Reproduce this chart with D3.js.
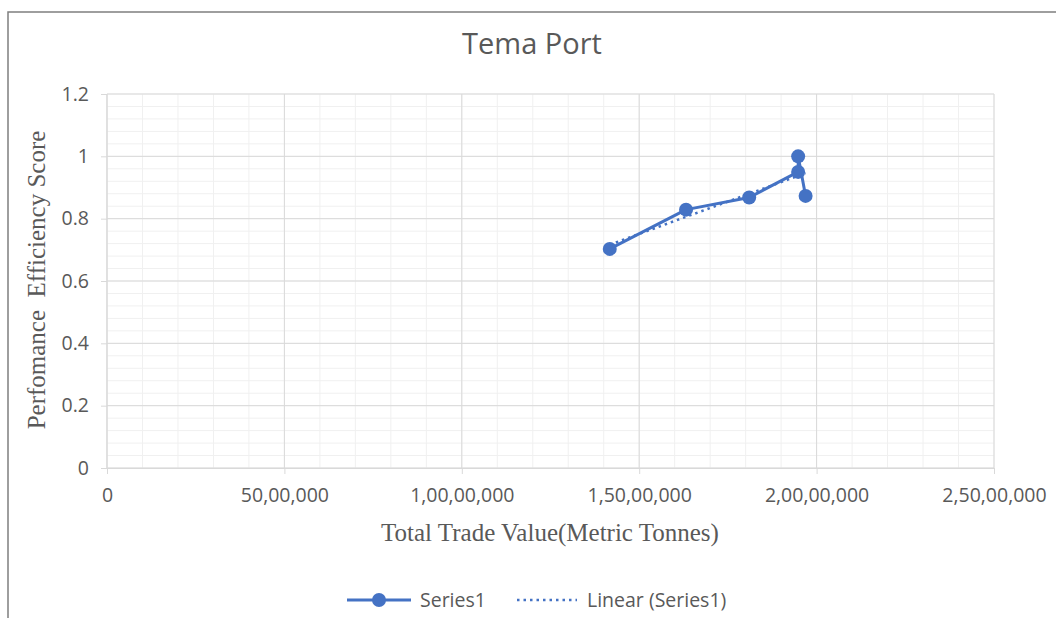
<!DOCTYPE html>
<html>
<head>
<meta charset="utf-8">
<script src="https://cdn.jsdelivr.net/npm/d3@7"></script>
<style>
  body { margin: 0; background: #fff; }
  svg { display: block; }
</style>
</head>
<body>
<div id="chart"></div>
<script>
// data
var tradeValues = [14170000, 16320000, 18100000, 19480000, 19480000, 19690000];
var effScores = [0.703, 0.829, 0.868, 0.950, 1.000, 0.873];
var xTicks = [0, 5000000, 10000000, 15000000, 20000000, 25000000];
var yTicks = [0, 0.2, 0.4, 0.6, 0.8, 1, 1.2];
var seriesName = "Series1";

var W = 1056, H = 618;
var margin = { top: 94, right: 62, bottom: 150, left: 107 };
var width = W - margin.left - margin.right,
    height = H - margin.top - margin.bottom;

var svg = d3.select("#chart")
    .append("svg")
    .attr("width", W)
    .attr("height", H);

// chart frame (runs off right and bottom)
svg.append("rect")
    .attr("x", 8).attr("y", 12)
    .attr("width", W + 10).attr("height", H + 10)
    .attr("fill", "none")
    .attr("stroke", "#7f7f7f")
    .attr("stroke-width", 1.5);

svg.append("text")
    .attr("x", 532).attr("y", 54)
    .attr("text-anchor", "middle")
    .attr("font-family", "Open Sans, Lato, sans-serif")
    .attr("font-size", 29)
    .attr("fill", "#595959")
    .text("Tema Port");

var g = svg.append("g")
    .attr("transform", "translate(" + margin.left + "," + margin.top + ")");

var x = d3.scaleLinear().domain([0, 25000000]).range([0, width]);
var y = d3.scaleLinear().domain([0, 1.2]).range([height, 0]);

// minor grid
g.append("g").selectAll("line")
    .data(d3.range(0, 25000001, 1000000))
    .enter().append("line")
    .attr("x1", function(d) { return x(d); })
    .attr("x2", function(d) { return x(d); })
    .attr("y1", 0).attr("y2", height)
    .attr("stroke", "#f0f0f0").attr("stroke-width", 1);

g.append("g").selectAll("line")
    .data(d3.range(0, 31).map(function(i) { return i * 0.04; }))
    .enter().append("line")
    .attr("y1", function(d) { return y(d); })
    .attr("y2", function(d) { return y(d); })
    .attr("x1", 0).attr("x2", width)
    .attr("stroke", "#f0f0f0").attr("stroke-width", 1);

// major grid
g.append("g").selectAll("line")
    .data(xTicks)
    .enter().append("line")
    .attr("x1", function(d) { return x(d); })
    .attr("x2", function(d) { return x(d); })
    .attr("y1", 0).attr("y2", height)
    .attr("stroke", "#d9d9d9").attr("stroke-width", 1);

g.append("g").selectAll("line")
    .data(yTicks)
    .enter().append("line")
    .attr("y1", function(d) { return y(d); })
    .attr("y2", function(d) { return y(d); })
    .attr("x1", 0).attr("x2", width)
    .attr("stroke", "#d9d9d9").attr("stroke-width", 1);

// indian style grouping: 2,50,00,000
function indFmt(v) {
    var s = String(Math.round(v));
    if (s.length <= 3) return s;
    var last = s.slice(-3), rest = s.slice(0, -3);
    rest = rest.replace(/\B(?=(\d{2})+(?!\d))/g, ",");
    return rest + "," + last;
}

var xAxis = g.append("g")
    .attr("transform", "translate(0," + height + ")")
    .call(d3.axisBottom(x).tickValues(xTicks).tickFormat(indFmt).tickSize(6).tickPadding(14));

var yAxis = g.append("g")
    .call(d3.axisLeft(y).tickValues(yTicks).tickFormat(d3.format("")).tickSize(6).tickPadding(12));

[xAxis, yAxis].forEach(function(a) {
    a.select(".domain").attr("stroke", "#d9d9d9");
    a.selectAll(".tick line").attr("stroke", "#d9d9d9");
    a.selectAll("text")
        .attr("font-family", "Open Sans, Lato, sans-serif")
        .attr("font-size", 19.5)
        .attr("fill", "#595959");
});
yAxis.select(".domain").remove();
yAxis.append("line").attr("y1", 0).attr("y2", height).attr("stroke", "#d9d9d9");

// axis titles
svg.append("text")
    .attr("x", 550).attr("y", 541)
    .attr("text-anchor", "middle")
    .attr("font-family", "Liberation Serif, Times New Roman, serif")
    .attr("font-size", 25)
    .attr("fill", "#595959")
    .text("Total Trade Value(Metric Tonnes)");

svg.append("text")
    .attr("transform", "translate(45,280) rotate(-90)")
    .attr("text-anchor", "middle")
    .attr("font-family", "Liberation Serif, Times New Roman, serif")
    .attr("font-size", 25)
    .attr("fill", "#595959")
    .attr("xml:space", "preserve")
    .text("Perfomance  Efficiency Score");

var pts = tradeValues.map(function(v, i) { return { x: v, y: effScores[i] }; });
var blue = "#4472c4";

// linear trendline
var mx = d3.mean(pts, function(d) { return d.x; }),
    my = d3.mean(pts, function(d) { return d.y; });
var slope = d3.sum(pts, function(d) { return (d.x - mx) * (d.y - my); }) /
            d3.sum(pts, function(d) { return (d.x - mx) * (d.x - mx); });
var icpt = my - slope * mx;
var xMin = d3.min(tradeValues), xMax = d3.max(tradeValues);

var line = d3.line()
    .x(function(d) { return x(d.x); })
    .y(function(d) { return y(d.y); });

g.append("path")
    .datum(pts)
    .attr("d", line)
    .attr("fill", "none")
    .attr("stroke", blue)
    .attr("stroke-width", 3)
    .attr("stroke-linejoin", "round");

g.selectAll(".dot")
    .data(pts)
    .enter().append("circle")
    .attr("class", "dot")
    .attr("cx", function(d) { return x(d.x); })
    .attr("cy", function(d) { return y(d.y); })
    .attr("r", 7)
    .attr("fill", blue);

g.append("line")
    .attr("x1", x(xMin)).attr("y1", y(icpt + slope * xMin))
    .attr("x2", x(xMax)).attr("y2", y(icpt + slope * xMax))
    .attr("stroke", blue)
    .attr("stroke-width", 2.5)
    .attr("stroke-dasharray", "2.5,4")
    .attr("stroke-linecap", "butt");

// legend
var lg = svg.append("g").attr("transform", "translate(0,600)");
lg.append("line").attr("x1", 347).attr("x2", 411).attr("y1", 0).attr("y2", 0)
    .attr("stroke", blue).attr("stroke-width", 3);
lg.append("circle").attr("cx", 379).attr("cy", 0).attr("r", 7).attr("fill", blue);
lg.append("text").attr("x", 420).attr("y", 7)
    .attr("font-family", "Open Sans, Lato, sans-serif").attr("font-size", 19.5)
    .attr("fill", "#595959").text(seriesName);
lg.append("line").attr("x1", 517).attr("x2", 577).attr("y1", 0).attr("y2", 0)
    .attr("stroke", blue).attr("stroke-width", 2.5).attr("stroke-dasharray", "2.5,4");
lg.append("text").attr("x", 587).attr("y", 7)
    .attr("font-family", "Open Sans, Lato, sans-serif").attr("font-size", 19.5)
    .attr("fill", "#595959").text("Linear (" + seriesName + ")");
</script>
</body>
</html>
